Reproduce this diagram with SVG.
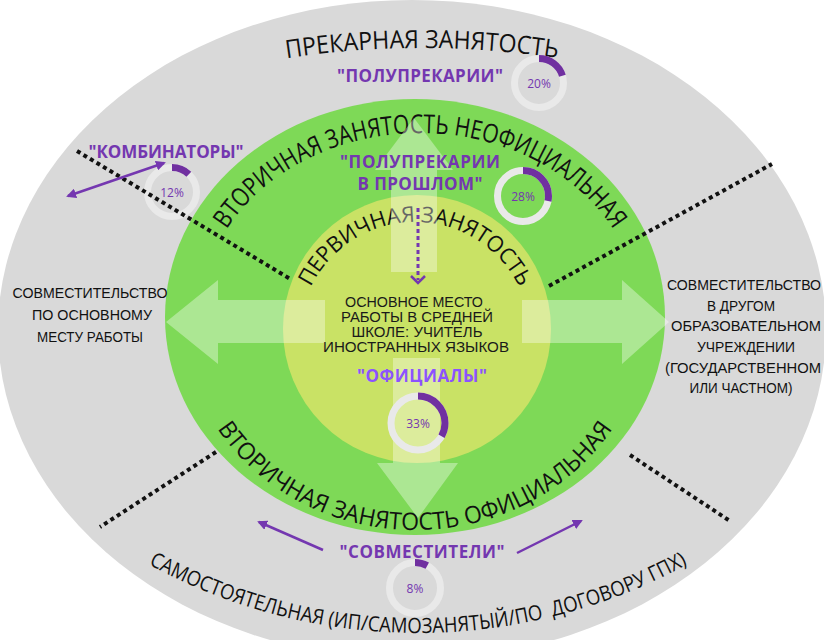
<svg xmlns="http://www.w3.org/2000/svg" width="824" height="640" viewBox="0 0 824 640">
<style>
.curve{font-family:"Open Sans","Liberation Sans",sans-serif;fill:#111;}
.lbl{font-family:"Liberation Sans","Open Sans",sans-serif;font-size:15px;fill:#111;text-anchor:middle;}
.ctr{font-family:"Liberation Sans","Open Sans",sans-serif;font-size:15.5px;fill:#1a1a1a;text-anchor:middle;}
.pt{font-family:"Open Sans","Liberation Sans",sans-serif;font-weight:700;font-size:17px;fill:#7437b0;text-anchor:middle;}
.pct{font-family:"Open Sans","Liberation Sans",sans-serif;font-size:12px;fill:#7437b0;text-anchor:middle;}
.ring{fill:none;stroke:#e9e9e9;stroke-width:7;}
.arc{fill:none;stroke:#7030a0;stroke-width:7;}
.dots{stroke:#111;stroke-width:4;stroke-dasharray:4 3.6;fill:none;}
.big{fill:#fff;fill-opacity:0.36;}
.parr{stroke:#7437b0;stroke-width:2.5;fill:none;}
</style>
<defs>
<marker id="ph" viewBox="0 0 10 10" refX="8" refY="5" markerWidth="4" markerHeight="4" orient="auto-start-reverse">
<path d="M0,0 L10,5 L0,10 z" fill="#7437b0"/>
</marker>
<path id="pTopGray" d="M 200 75.8 A 900 900 0 0 1 644 75.8"/>
<path id="pTopGreen" d="M 200 317 A 220 184 0 0 1 640 317"/>
<path id="pYellow" d="M 299 338 A 116 116 0 0 1 531 338"/>
<path id="pBotGreen" d="M 183 317 A 232 213 0 0 0 647 317"/>
<path id="pBotGray" d="M -68.7 352 A 562 562 0 0 0 904.7 352"/>
</defs>
<rect width="824" height="640" fill="#fff"/>
<g id="zone-precarious">
<ellipse cx="412" cy="330" rx="414" ry="330" fill="#d9d9d9"/>
</g>
<g id="zone-secondary">
<ellipse cx="415" cy="317" rx="250" ry="218" fill="#7ed957"/>
</g>
<g id="zone-primary">
<circle cx="417" cy="329" r="134" fill="#c9e265"/>
</g>
<g id="curved-labels">
<text class="curve" font-size="25"><textPath href="#pTopGray" startOffset="50%" text-anchor="middle" textLength="272" lengthAdjust="spacingAndGlyphs">ПРЕКАРНАЯ ЗАНЯТОСТЬ</textPath></text>
<text class="curve" font-size="26"><textPath href="#pTopGreen" startOffset="50%" text-anchor="middle" textLength="450" lengthAdjust="spacingAndGlyphs">ВТОРИЧНАЯ ЗАНЯТОСТЬ НЕОФИЦИАЛЬНАЯ</textPath></text>
<text class="curve" font-size="22"><textPath href="#pYellow" startOffset="50%" text-anchor="middle" textLength="259" lengthAdjust="spacingAndGlyphs">ПЕРВИЧНАЯ ЗАНЯТОСТЬ</textPath></text>
<text class="curve" font-size="24"><textPath href="#pBotGreen" startOffset="50%" text-anchor="middle" textLength="462" lengthAdjust="spacingAndGlyphs">ВТОРИЧНАЯ ЗАНЯТОСТЬ ОФИЦИАЛЬНАЯ</textPath></text>
<text class="curve" font-size="21" style="white-space:pre"><textPath href="#pBotGray" startOffset="50%" text-anchor="middle" textLength="562" lengthAdjust="spacingAndGlyphs">САМОСТОЯТЕЛЬНАЯ (ИП/САМОЗАНЯТЫЙ/ПО&#160; ДОГОВОРУ ГПХ)</textPath></text>
</g>
<g id="donut-20">
<circle class="ring" cx="539" cy="83" r="24.5"/>
<circle class="arc" cx="539" cy="83" r="24.5" stroke-dasharray="30.8 200" transform="rotate(-90 539 83)"/>
<text class="pct" x="539" y="87.5">20%</text>
</g>
<g id="donut-12">
<circle class="ring" cx="172" cy="192" r="24.5"/>
<circle class="arc" cx="172" cy="192" r="24.5" stroke-dasharray="18.5 200" transform="rotate(-90 172 192)"/>
<text class="pct" x="172" y="196.5">12%</text>
</g>
<g id="donut-28">
<circle class="ring" cx="523" cy="196" r="25.5"/>
<circle class="arc" cx="523" cy="196" r="25.5" stroke-dasharray="44.9 200" transform="rotate(-90 523 196)"/>
<text class="pct" x="523" y="200.5">28%</text>
</g>
<g id="donut-8">
<circle class="ring" cx="415" cy="588" r="25.5"/>
<circle class="arc" cx="415" cy="588" r="25.5" stroke-dasharray="12.8 200" transform="rotate(-90 415 588)"/>
<text class="pct" x="415" y="592.5">8%</text>
</g>
<g id="dividers">
<line class="dots" x1="77" y1="151" x2="292" y2="280"/>
<line class="dots" x1="549" y1="286" x2="772" y2="164"/>
<line class="dots" x1="216" y1="452" x2="100" y2="527"/>
<line class="dots" x1="630" y1="455" x2="730" y2="521"/>
</g>
<g id="big-arrows">
<polygon class="big" points="414,118 453,170 437,170 437,272 391,272 391,170 375,170"/>
<polygon class="big" points="393,358 440,358 440,463 458,463 418,518 377,463 393,463"/>
<polygon class="big" points="166,322 218,280 218,300 325,300 325,343 218,343 218,364"/>
<polygon class="big" points="669,322 622,280 622,300 522,300 522,343 622,343 622,364"/>
</g>
<g id="donut-33">
<circle class="ring" cx="418" cy="423" r="27"/>
<circle class="arc" cx="418" cy="423" r="27" stroke-dasharray="56 200" transform="rotate(-90 418 423)"/>
<text class="pct" x="418" y="428" font-size="13">33%</text>
</g>
<g id="label-left">
<text class="lbl" x="90" y="298" textLength="155" lengthAdjust="spacingAndGlyphs">СОВМЕСТИТЕЛЬСТВО</text>
<text class="lbl" x="92" y="320" textLength="120" lengthAdjust="spacingAndGlyphs">ПО ОСНОВНОМУ</text>
<text class="lbl" x="90" y="342" textLength="106" lengthAdjust="spacingAndGlyphs">МЕСТУ РАБОТЫ</text>
</g>
<g id="label-right">
<text class="lbl" x="744" y="290" textLength="154" lengthAdjust="spacingAndGlyphs">СОВМЕСТИТЕЛЬСТВО</text>
<text class="lbl" x="741" y="310.7" textLength="68" lengthAdjust="spacingAndGlyphs">В ДРУГОМ</text>
<text class="lbl" x="746" y="331.4" textLength="150" lengthAdjust="spacingAndGlyphs">ОБРАЗОВАТЕЛЬНОМ</text>
<text class="lbl" x="746" y="352" textLength="98" lengthAdjust="spacingAndGlyphs">УЧРЕЖДЕНИИ</text>
<text class="lbl" x="743" y="372.7" textLength="156" lengthAdjust="spacingAndGlyphs">(ГОСУДАРСТВЕННОМ</text>
<text class="lbl" x="741" y="393.4" textLength="103" lengthAdjust="spacingAndGlyphs">ИЛИ ЧАСТНОМ)</text>
</g>
<g id="label-center">
<text class="ctr" x="414" y="307" textLength="138" lengthAdjust="spacingAndGlyphs">ОСНОВНОЕ МЕСТО</text>
<text class="ctr" x="417" y="322" textLength="152" lengthAdjust="spacingAndGlyphs">РАБОТЫ В СРЕДНЕЙ</text>
<text class="ctr" x="417" y="337" textLength="131" lengthAdjust="spacingAndGlyphs">ШКОЛЕ: УЧИТЕЛЬ</text>
<text class="ctr" x="416" y="352" textLength="186" lengthAdjust="spacingAndGlyphs">ИНОСТРАННЫХ ЯЗЫКОВ</text>
</g>
<g id="group-polupr">
<text class="pt" x="420" y="82" textLength="166">"ПОЛУПРЕКАРИИ"</text>
</g>
<g id="group-kombi">
<text class="pt" x="166" y="158" textLength="155">"КОМБИНАТОРЫ"</text>
</g>
<g id="group-polupr-past">
<text class="pt" x="420" y="168" textLength="160">"ПОЛУПРЕКАРИИ</text>
<text class="pt" x="420" y="190" textLength="125">В ПРОШЛОМ"</text>
</g>
<g id="group-ofic">
<text class="pt" x="422" y="382" font-size="18" textLength="130" style="fill:#8c52ff">"ОФИЦИАЛЫ"</text>
</g>
<g id="group-sovm">
<text class="pt" x="422" y="558" textLength="165">"СОВМЕСТИТЕЛИ"</text>
</g>
<g id="connectors">
<line class="parr" x1="68" y1="196" x2="164" y2="163" marker-start="url(#ph)" marker-end="url(#ph)"/>
<line class="parr" x1="323" y1="550" x2="259" y2="522" marker-end="url(#ph)"/>
<line class="parr" x1="517" y1="553" x2="581" y2="521" marker-end="url(#ph)"/>
<line x1="418" y1="208" x2="418" y2="280" stroke="#7437b0" stroke-width="3" stroke-dasharray="4 3"/>
<polyline points="411,276 418,283 425,276" fill="none" stroke="#7437b0" stroke-width="2.5"/>
</g>
</svg>
